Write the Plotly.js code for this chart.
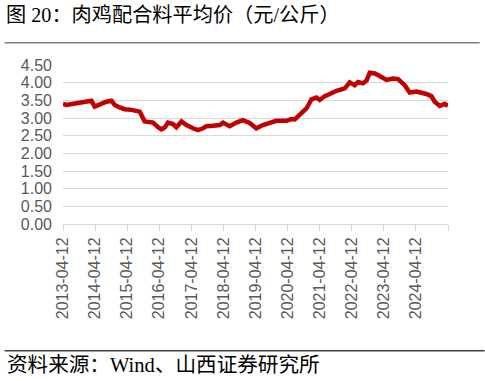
<!DOCTYPE html>
<html>
<head>
<meta charset="utf-8">
<script src="https://cdn.plot.ly/plotly-3.0.1.min.js"></script>
<style>html,body{margin:0;padding:0;background:#fff;}#chart{width:485px;height:381px;}</style>
</head>
<body>
<div id="chart"></div>
<script>
const dates = ["2013-04-12","2013-05-20","2013-09-12","2013-11-25","2014-01-22","2014-03-01","2014-04-08","2014-06-03","2014-08-19","2014-10-15","2014-11-22","2015-01-17","2015-03-15","2015-05-30","2015-07-27","2015-09-03","2015-10-29","2016-02-01","2016-03-29","2016-05-06","2016-06-13","2016-07-20","2016-09-15","2016-10-24","2016-12-20","2017-02-15","2017-05-01","2017-06-27","2017-08-23","2017-10-01","2017-12-15","2018-03-02","2018-04-08","2018-06-22","2018-09-07","2018-11-20","2019-02-05","2019-04-22","2019-07-06","2019-09-21","2019-12-06","2020-03-30","2020-05-26","2020-07-03","2020-08-28","2020-11-13","2021-01-09","2021-03-06","2021-04-13","2021-06-09","2021-08-05","2021-10-21","2022-01-23","2022-03-20","2022-05-16","2022-06-23","2022-08-19","2022-09-27","2022-11-03","2022-12-30","2023-02-25","2023-05-12","2023-07-26","2023-09-21","2023-12-06","2024-02-01","2024-04-18","2024-06-14","2024-08-09","2024-10-05","2024-11-12","2025-01-08","2025-03-06","2025-04-12"];
const prices = [3.40,3.37,3.42,3.46,3.49,3.49,3.32,3.39,3.46,3.49,3.37,3.30,3.25,3.23,3.20,3.18,2.90,2.87,2.74,2.68,2.73,2.87,2.83,2.74,2.90,2.80,2.71,2.66,2.71,2.77,2.78,2.80,2.87,2.77,2.87,2.94,2.86,2.71,2.80,2.87,2.92,2.92,2.97,2.96,3.08,3.27,3.53,3.58,3.51,3.62,3.68,3.77,3.84,4.01,3.93,4.02,3.98,4.06,4.28,4.26,4.19,4.08,4.12,4.10,3.93,3.72,3.75,3.73,3.68,3.62,3.46,3.34,3.40,3.34];
const tickDates = ["2013-04-12","2014-04-12","2015-04-12","2016-04-12","2017-04-12","2018-04-12","2019-04-12","2020-04-12","2021-04-12","2022-04-12","2023-04-12","2024-04-12","2025-04-12"];
const tickLabels = ["2013-04-12","2014-04-12","2015-04-12","2016-04-12","2017-04-12","2018-04-12","2019-04-12","2020-04-12","2021-04-12","2022-04-12","2023-04-12","2024-04-12",""];
const titleText = "图 20：肉鸡配合料平均价（元/公斤）";
const sourceText = "资料来源：Wind、山西证券研究所";

const W = 485, H = 381;
const L = 63.3, R = 448.3, T = 65, B = 224;
const px = x => (x - L) / (R - L);
const py = y => (B - y) / (B - T);
const cjk = "Liberation Serif, Noto Sans CJK SC, serif";

const data = [{
  x: dates, y: prices, type: 'scatter', mode: 'lines',
  line: {color: '#C00000', width: 4.5}, hoverinfo: 'skip'
}];

const layout = {
  width: W, height: H,
  margin: {l: L, r: W - R, t: T, b: H - B, pad: 0},
  paper_bgcolor: '#fff', plot_bgcolor: '#fff',
  showlegend: false,
  title: {text: titleText, x: 6/W, xanchor: 'left', xref: 'container',
          y: 1 - 15/H, yanchor: 'middle', yref: 'container',
          font: {family: cjk, size: 20.2, color: '#000'}},
  xaxis: {
    type: 'date', range: [tickDates[0], tickDates[tickDates.length-1]],
    tickmode: 'array', tickvals: tickDates, ticktext: tickLabels,
    tickangle: -90, ticks: 'outside', ticklen: 6, tickcolor: '#d9d9d9', tickwidth: 1,
    showline: true, linecolor: '#d9d9d9', linewidth: 1, showgrid: false, zeroline: false,
    tickfont: {family: 'Liberation Sans, Arial, sans-serif', size: 16, color: '#595959'},
    fixedrange: true
  },
  yaxis: {
    range: [0, 4.5], dtick: 0.5, tick0: 0, tickformat: '.2f',
    showgrid: true, gridcolor: '#d9d9d9', gridwidth: 1, zeroline: false, showline: false,
    ticks: '', ticklabelstandoff: 10,
    tickfont: {family: 'Liberation Sans, Arial, sans-serif', size: 16, color: '#595959'},
    fixedrange: true
  },
  shapes: [
    {type: 'line', xref: 'paper', yref: 'paper', x0: px(5), x1: px(480), y0: py(42.7), y1: py(42.7),
     line: {color: '#7f7f7f', width: 1.5}},
    {type: 'line', xref: 'paper', yref: 'paper', x0: px(5), x1: px(485), y0: py(350.7), y1: py(350.7),
     line: {color: '#404040', width: 1.5}}
  ],
  annotations: [
    {text: sourceText, xref: 'paper', yref: 'paper', x: px(5), y: py(365),
     xanchor: 'left', yanchor: 'middle', showarrow: false,
     font: {family: cjk, size: 20.6, color: '#000'}}
  ]
};

Plotly.newPlot('chart', data, layout, {displayModeBar: false, staticPlot: true});
</script>
</body>
</html>
